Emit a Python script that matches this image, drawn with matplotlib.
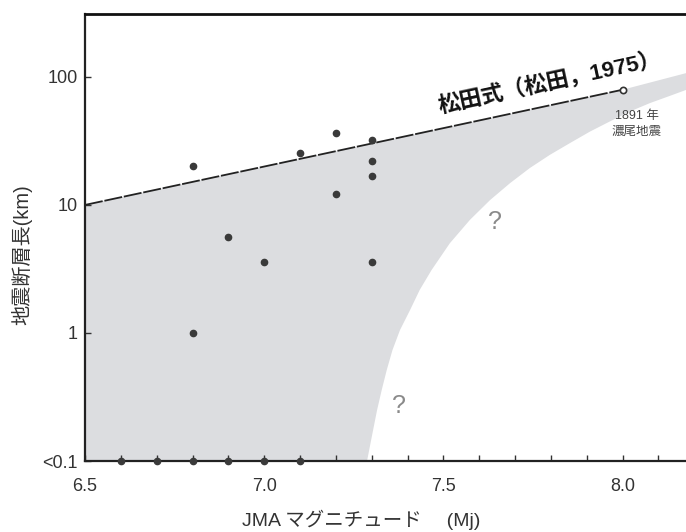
import matplotlib.pyplot as plt
from matplotlib.ticker import FixedLocator, MultipleLocator

plt.rcParams['font.family'] = ['Liberation Sans', 'Noto Sans CJK JP', 'DejaVu Sans']

# 松田式 log L = 0.6M - 2.9 (端点を図から読み取り)
line_mag = [6.5, 8.0]
line_len = [10.0, 79.4]

# 地震ごとの値 (M, L)
quake_mag = [6.8, 6.9, 7.0, 7.1, 7.2, 7.2, 7.3, 7.3, 7.3, 7.3, 6.8]
quake_len = [20.0, 5.6, 3.6, 25.3, 36.5, 12.1, 32.4, 22.2, 16.7, 3.6, 1.0]
# <0.1 km の地震
small_mag = [6.6, 6.7, 6.8, 6.9, 7.0, 7.1]
nobi_mag, nobi_len = 8.0, 79.4

# 灰色領域の右側の境界 (下から上へ、図から読み取り)
edge_mag = [7.287, 7.293, 7.304, 7.315, 7.328, 7.342, 7.358, 7.379, 7.407,
            7.434, 7.467, 7.518, 7.574, 7.630, 7.686, 7.741, 7.797, 7.853,
            7.909, 7.964, 8.020, 8.076, 8.132, 8.177]
edge_len = [0.1, 0.122, 0.175, 0.250, 0.359, 0.514, 0.736, 1.055, 1.51,
            2.17, 3.10, 5.02, 7.64, 10.9, 14.8, 19.4, 24.6, 30.4,
            37.4, 44.8, 53.6, 62.4, 71.1, 79.1]
# 灰色領域の上側 (8.0 より右)
top_mag = [8.0, 8.177]
top_len = [79.4, 107.0]

ytick_vals = [0.1, 1, 10, 100]
ytick_labels = ['<0.1', '1', '10', '100']
xtick_vals = [6.5, 7.0, 7.5, 8.0]

fig = plt.figure(figsize=(6.86, 5.32), dpi=100)
ax = fig.add_axes([85 / 686, 1 - 461 / 532, 1 - 85 / 686, (461 - 14) / 532])
ax.set_yscale('log')
ax.set_xlim(6.5, 8.177)
ax.set_ylim(0.1, 310)

# 灰色の領域
poly_x = [line_mag[0]] + line_mag + top_mag[1:] + edge_mag[::-1]
poly_y = [0.1] + line_len + top_len[1:] + edge_len[::-1]
ax.fill(poly_x, poly_y, color='#dcdde0', lw=0, zorder=1)

ax.plot(line_mag, line_len, color='#222222', lw=1.3,
        linestyle=(0, (10, 1)), zorder=3)
ax.plot(quake_mag, quake_len, 'o', color='#3a3a3a', ms=4.5, zorder=4)
ax.plot(small_mag, [0.1] * len(small_mag), 'o', color='#3a3a3a', ms=4.5,
        zorder=4, clip_on=False)
ax.plot([nobi_mag], [nobi_len], 'o', mfc='white', mec='#333333', ms=4.5,
        mew=1.2, zorder=4)

ax.text(7.80, 81, '松田式（松田，1975）', rotation=12.2, rotation_mode='anchor',
        ha='center', va='baseline', fontsize=16, fontweight='bold',
        color='#111111', zorder=5)
ax.text(8.04, 43, '1891 年\n濃尾地震', ha='center', va='center', fontsize=9,
        color='#444444', linespacing=1.5, zorder=5)
ax.text(7.644, 7.4, '?', ha='center', va='center', fontsize=18, color='#8a8a8a')
ax.text(7.376, 0.27, '?', ha='center', va='center', fontsize=18, color='#8a8a8a')

ax.yaxis.set_major_locator(FixedLocator(ytick_vals))
ax.yaxis.set_minor_locator(FixedLocator([]))
ax.set_yticklabels(ytick_labels)
ax.set_xticks(xtick_vals)
ax.set_xticklabels(['%.1f' % v for v in xtick_vals])
ax.xaxis.set_minor_locator(MultipleLocator(0.1))
ax.tick_params(axis='x', which='both', direction='in', length=4, width=1,
               color='#333333', pad=12, labelsize=13, labelcolor='#333333')
ax.tick_params(axis='y', which='both', direction='in', length=4, width=1,
               color='#333333', pad=5, labelsize=13, labelcolor='#333333')

ax.spines['right'].set_visible(False)
ax.spines['top'].set_linewidth(2.0)
ax.spines['top'].set_color('#111111')
ax.spines['left'].set_linewidth(1.6)
ax.spines['left'].set_color('#222222')
ax.spines['bottom'].set_linewidth(1.6)
ax.spines['bottom'].set_color('#222222')

fig.text(361 / 686, 1 - 520 / 532, 'JMA マグニチュード　 (Mj)', ha='center',
         va='center', fontsize=14, color='#333333')
fig.text(22 / 686, 1 - 255 / 532, '地震断層長(km)', ha='center', va='center',
         rotation=90, fontsize=14.5, color='#333333')

fig.savefig('out.png', dpi=100)
